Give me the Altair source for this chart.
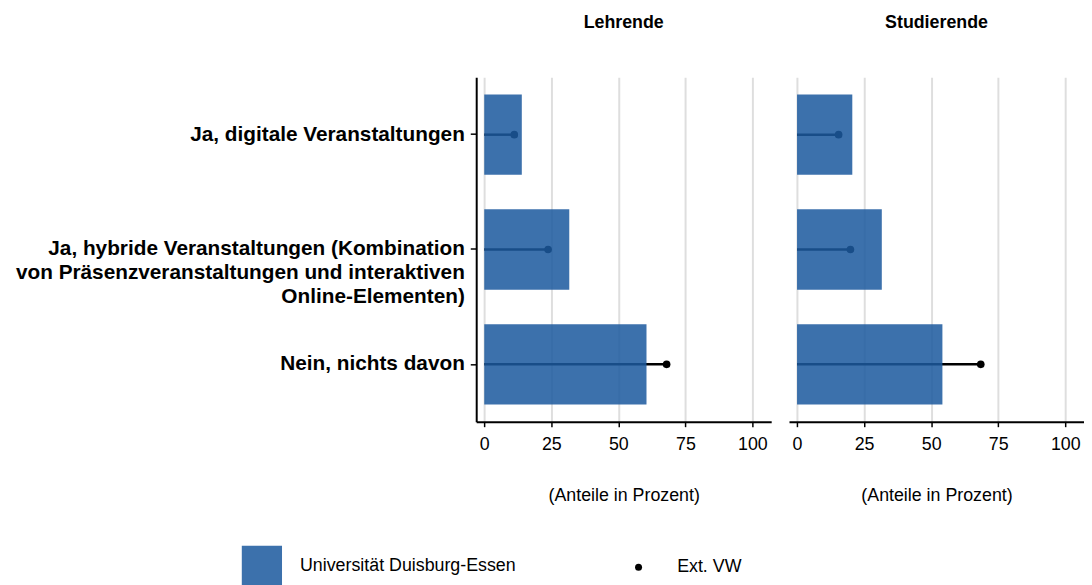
import altair as alt
import pandas as pd

groups = ["Lehrende", "Studierende"]
categories = [
    "Ja, digitale Veranstaltungen",
    "Ja, hybride Veranstaltungen (Kombination|von Präsenzveranstaltungen und interaktiven|Online-Elementen)",
    "Nein, nichts davon",
]
ude_lehrende = [14.0, 31.7, 60.5]
ext_lehrende = [11.2, 23.8, 68.0]
ude_studierende = [20.6, 31.6, 54.2]
ext_studierende = [15.5, 19.9, 68.5]

rows = []
for g, ude, ext in [("Lehrende", ude_lehrende, ext_lehrende),
                    ("Studierende", ude_studierende, ext_studierende)]:
    for c, u, e in zip(categories, ude, ext):
        rows.append({"gruppe": g, "kategorie": c, "ude": u, "ext": e,
                     "s1": "Universität Duisburg-Essen", "s2": "Ext. VW"})
df = pd.DataFrame(rows)

FONT = "Liberation Sans"
BAR = "#1c5a9e"

xscale = alt.Scale(domain=[-3, 107], nice=False, zero=False)
xaxis = alt.Axis(values=[0, 25, 50, 75, 100], title="(Anteile in Prozent)",
                 labelFontSize=18, labelColor="black", titleFontSize=18,
                 titleFontWeight="normal", titleColor="black", titlePadding=34,
                 grid=True, gridColor="#dedede", gridWidth=2,
                 domainColor="black", domainWidth=2, tickColor="black",
                 tickWidth=1.5, tickSize=5, labelPadding=9)


def panel(group, show_y):
    d = df[df["gruppe"] == group]
    if show_y:
        yaxis = alt.Axis(title=None, labelFontSize=21, labelFontWeight="bold",
                         labelColor="black", labelLimit=700, labelLineHeight=24,
                         labelExpr="split(datum.label, '|')",
                         domainColor="black", domainWidth=2, tickColor="black",
                         tickWidth=1.5, tickSize=6, labelPadding=6)
    else:
        yaxis = alt.Axis(title=None, labels=False, ticks=False, domain=False)
    yenc = alt.Y("kategorie:N", sort=categories,
                 scale=alt.Scale(paddingInner=0.3, paddingOuter=0.15), axis=yaxis)
    rule = alt.Chart(d).mark_rule(color="black", strokeWidth=2.5).encode(
        x=alt.X("ext:Q", scale=xscale, axis=xaxis),
        x2=alt.datum(0),
        y=yenc,
    )
    point = alt.Chart(d).mark_point(filled=True, color="black", size=60, opacity=1).encode(
        x=alt.X("ext:Q", scale=xscale, axis=xaxis),
        y=yenc,
        shape=alt.Shape("s2:N", scale=alt.Scale(range=["circle"]),
                        legend=alt.Legend(title=None, orient="none", legendX=155, legendY=486,
                                          labelFontSize=18, labelColor="black",
                                          symbolSize=50, symbolFillColor="black",
                                          symbolStrokeColor="black", labelOffset=30)),
    )
    bar = alt.Chart(d).mark_bar(opacity=0.86, color=BAR).encode(
        x=alt.X("ude:Q", scale=xscale, axis=xaxis),
        y=yenc,
        color=alt.Color("s1:N", scale=alt.Scale(range=[BAR]),
                        legend=alt.Legend(title=None, orient="none", legendX=-237, legendY=473,
                                          labelFontSize=18, labelColor="black",
                                          symbolType="square", symbolSize=1650,
                                          symbolOpacity=0.86, symbolStrokeWidth=0,
                                          labelOffset=18, labelLimit=400)),
    )
    return alt.layer(rule, point, bar).properties(
        width=298, height=348,
        title=alt.TitleParams(group, fontSize=18, fontWeight="bold", color="black",
                              anchor="middle", offset=46, font=FONT),
    )


chart = alt.hconcat(panel("Lehrende", True), panel("Studierende", False), spacing=18)
chart = chart.properties(padding={"left": 7, "top": 3, "right": 0, "bottom": 0})
chart = chart.configure(font=FONT).configure_view(stroke=None)

chart.save("out.html", embed_options={"renderer": "svg", "actions": False})
